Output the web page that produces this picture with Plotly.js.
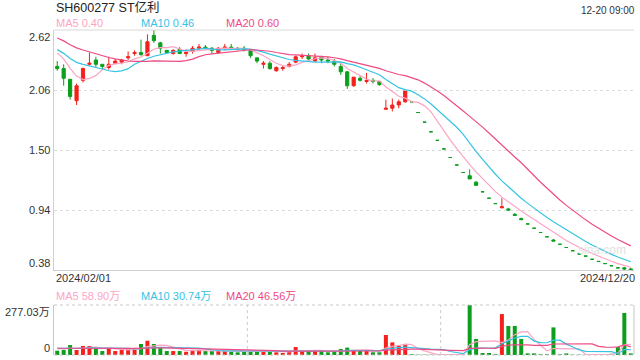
<!DOCTYPE html>
<html><head><meta charset="utf-8">
<script src="https://cdn.plot.ly/plotly-3.0.1.min.js"></script>
<style>html,body{margin:0;padding:0;background:#fff}#c{width:640px;height:360px}</style>
</head><body><div id="c"></div>
<script>
// ---- data ----
const opens  = [2.28,2.26,2.16,1.96,2.15,2.30,2.34,2.30,2.27,2.31, 2.32,2.36,2.40,2.41,2.38,2.57,2.50,2.43,2.40,2.44,
                2.40,2.42,2.45,2.46,2.45,2.41,2.45,2.46,2.45,2.45, 2.43,2.36,2.30,2.31,2.24,2.26,2.28,2.32,2.37,2.38,
                2.33,2.37,2.34,2.33,2.28,2.23,2.10,2.17,2.14,2.15, 2.14,1.88,1.89,1.92,1.95,1.95,1.85,1.76,1.67,1.59,
                1.51,1.43,1.36,1.29,1.26,1.20,1.11,1.05,1.00,0.96, 0.95,0.90,0.86,0.81,0.77,0.73,0.69,0.66,0.62,0.59,
                0.56,0.53,0.51,0.48,0.46,0.44,0.42,0.40,0.40,0.39];
const highs  = [2.33,2.30,2.16,2.12,2.27,2.41,2.37,2.30,2.37,2.35, 2.35,2.42,2.43,2.53,2.58,2.62,2.51,2.43,2.44,2.46,
                2.44,2.47,2.49,2.48,2.46,2.46,2.49,2.49,2.46,2.47, 2.43,2.36,2.33,2.33,2.28,2.29,2.32,2.38,2.40,2.40,
                2.40,2.38,2.37,2.35,2.31,2.23,2.18,2.19,2.22,2.17, 2.14,1.97,1.98,1.97,2.05,1.95,1.85,1.76,1.67,1.59,
                1.51,1.43,1.36,1.29,1.32,1.21,1.11,1.05,1.00,1.05, 0.96,0.91,0.87,0.81,0.77,0.73,0.69,0.67,0.62,0.59,
                0.56,0.53,0.51,0.48,0.46,0.44,0.42,0.40,0.41,0.40];
const lows   = [2.24,2.10,1.97,1.92,2.13,2.29,2.27,2.25,2.25,2.30, 2.30,2.34,2.38,2.38,2.38,2.50,2.40,2.40,2.39,2.40,
                2.37,2.40,2.43,2.44,2.40,2.40,2.43,2.44,2.43,2.42, 2.36,2.31,2.26,2.25,2.23,2.24,2.27,2.31,2.35,2.34,
                2.33,2.31,2.31,2.28,2.20,2.07,2.09,2.14,2.12,2.12, 2.10,1.88,1.86,1.89,1.94,1.95,1.85,1.76,1.67,1.59,
                1.51,1.43,1.36,1.29,1.23,1.17,1.11,1.05,1.00,0.96, 0.93,0.89,0.85,0.81,0.77,0.73,0.69,0.65,0.62,0.59,
                0.56,0.53,0.51,0.48,0.46,0.44,0.42,0.40,0.38,0.38];
const closes = [2.26,2.17,2.00,2.10,2.26,2.31,2.30,2.28,2.30,2.33, 2.34,2.37,2.41,2.39,2.51,2.52,2.45,2.41,2.43,2.40,
                2.41,2.45,2.46,2.45,2.43,2.45,2.46,2.45,2.44,2.44, 2.38,2.33,2.31,2.26,2.27,2.27,2.30,2.37,2.38,2.35,
                2.36,2.34,2.33,2.30,2.23,2.10,2.18,2.15,2.15,2.14, 2.11,1.89,1.92,1.95,2.05,1.95,1.85,1.76,1.67,1.59,
                1.51,1.43,1.36,1.29,1.23,1.17,1.11,1.05,1.00,0.97, 0.94,0.89,0.85,0.81,0.77,0.73,0.69,0.65,0.62,0.59,
                0.56,0.53,0.51,0.48,0.46,0.44,0.42,0.40,0.39,0.38];
// volume, 万股
const volumes = [24,28,55,28,50,50,37,22,37,22, 31,31,31,61,79,61,42,22,22,22,
                 18,28,28,22,22,22,22,18,15,18, 22,22,22,22,15,11,18,44,22,22,
                 22,22,15,22,33,41,26,22,26,15, 15,111,70,52,55,4,2,2,2,2,
                 2,2,1,1,277.03,89,11,11,4,227, 161,161,89,9,9,4,4,153,4,9,
                 2,2,1,1,2,1.5,7,44,233,9];
// closes / volumes of the days just before the window (estimated from the MA lines)
const preCloses  = [2.70,2.72,2.68,2.66,2.69,2.65,2.62,2.63,2.60,2.58,2.52,2.48,2.46,2.45,2.43,2.45,2.44,2.46,2.42];
const preVolumes = [35,42,38,30,45,40,36,33,41,39,37,44,36,40,35,38,42,36,39];

const priceTicks      = [0.38, 0.94, 1.50, 2.06, 2.62];
const priceTickLabels = ['0.38','0.94','1.50','2.06','2.62'];
const dateLabels      = ['2024/02/01','2024/12/20'];
const volTickLabels   = ['0','277.03万'];
const titleText = 'SH600277 ST亿利';
const timeText  = '12-20 09:00';
const maLabels    = ['MA5 0.40','MA10 0.46','MA20 0.60'];
const volMaLabels = ['MA5 58.90万','MA10 30.74万','MA20 46.56万'];

// ---- styling ----
const RED = '#f5201b', GREEN = '#0c9e1c';
const C5 = '#fda4c4', C10 = '#37c3e3', C20 = '#ee4a84';
const FONT = 'Liberation Sans, Arial, Noto Sans CJK SC, sans-serif';

const N = closes.length;
const xs = closes.map((_, i) => i);

function ma(pre, arr, n) {
  const all = pre.concat(arr);
  return arr.map((_, i) => { let s = 0; for (let k = 0; k < n; k++) s += all[pre.length + i - k]; return s / n; });
}
const volColors = closes.map((c, i) => {
  if (c > opens[i]) return RED;
  if (c < opens[i]) return GREEN;
  const prev = i > 0 ? closes[i - 1] : preCloses[preCloses.length - 1];
  return c >= prev ? RED : GREEN;
});

const traces = [
  {type:'candlestick', x:xs, open:opens, high:highs, low:lows, close:closes, xaxis:'x', yaxis:'y',
   increasing:{line:{color:RED, width:1}, fillcolor:RED},
   decreasing:{line:{color:GREEN, width:1}, fillcolor:GREEN},
   hoverinfo:'skip', showlegend:false},
  {type:'scatter', mode:'lines', x:xs, y:ma(preCloses, closes, 5),  line:{color:C5,  width:1.2}, xaxis:'x', yaxis:'y', hoverinfo:'skip', showlegend:false},
  {type:'scatter', mode:'lines', x:xs, y:ma(preCloses, closes, 10), line:{color:C10, width:1.2}, xaxis:'x', yaxis:'y', hoverinfo:'skip', showlegend:false},
  {type:'scatter', mode:'lines', x:xs, y:ma(preCloses, closes, 20), line:{color:C20, width:1.2}, xaxis:'x', yaxis:'y', hoverinfo:'skip', showlegend:false},
  {type:'bar', x:xs, y:volumes, marker:{color:volColors, line:{width:0}}, width:0.62, xaxis:'x2', yaxis:'y2', hoverinfo:'skip', showlegend:false},
  {type:'scatter', mode:'lines', x:xs, y:ma(preVolumes, volumes, 5),  line:{color:C5,  width:1.2}, xaxis:'x2', yaxis:'y2', hoverinfo:'skip', showlegend:false},
  {type:'scatter', mode:'lines', x:xs, y:ma(preVolumes, volumes, 10), line:{color:C10, width:1.2}, xaxis:'x2', yaxis:'y2', hoverinfo:'skip', showlegend:false},
  {type:'scatter', mode:'lines', x:xs, y:ma(preVolumes, volumes, 20), line:{color:C20, width:1.2}, xaxis:'x2', yaxis:'y2', hoverinfo:'skip', showlegend:false}
];

const txt = (o) => Object.assign({showarrow:false, borderpad:0, font:{family:FONT, size:11, color:'#333'}}, o);
const annotations = [];
annotations.push(txt({text:titleText, xref:'paper', x:0, xanchor:'left', xshift:1, yref:'paper', y:1, yanchor:'middle', yshift:23, font:{family:FONT, size:12.5, color:'#222'}}));
annotations.push(txt({text:timeText, xref:'paper', x:1, xanchor:'right', xshift:2, yref:'paper', y:1, yanchor:'middle', yshift:20, font:{family:FONT, size:10, color:'#333'}}));
const maX = [1, 86, 171];
[C5, C10, C20].forEach((col, k) => {
  annotations.push(txt({text:maLabels[k], xref:'paper', x:0, xanchor:'left', xshift:maX[k], yref:'paper', y:1, yanchor:'middle', yshift:7, font:{family:FONT, size:11, color:col}}));
  annotations.push(txt({text:volMaLabels[k], xref:'paper', x:0, xanchor:'left', xshift:maX[k], yref:'y2 domain', y:1, yanchor:'middle', yshift:9, font:{family:FONT, size:11, color:col}}));
});
priceTicks.forEach((v, k) => {
  const anchor = k === priceTicks.length - 1 ? 'top' : (k === 0 ? 'bottom' : 'middle');
  annotations.push(txt({text:priceTickLabels[k], xref:'paper', x:0, xanchor:'right', xshift:-3, yref:'y', y:v, yanchor:anchor}));
});
annotations.push(txt({text:dateLabels[0], xref:'paper', x:0, xanchor:'left', xshift:1, yref:'y domain', y:0, yanchor:'top', yshift:-1}));
annotations.push(txt({text:dateLabels[1], xref:'paper', x:1, xanchor:'right', xshift:2, yref:'y domain', y:0, yanchor:'top', yshift:-1}));
annotations.push(txt({text:volTickLabels[1], xref:'paper', x:0, xanchor:'right', xshift:-3, yref:'y2 domain', y:1, yanchor:'top'}));
annotations.push(txt({text:volTickLabels[0], xref:'paper', x:0, xanchor:'right', xshift:-3, yref:'y2 domain', y:0, yanchor:'bottom'}));
annotations.push(txt({text:'sina.com', xref:'paper', x:0.945, xanchor:'center', yref:'y', y:0.567, yanchor:'middle', font:{family:FONT, size:12, color:'#e2e2e2'}}));

const shapes = [
  {type:'line', xref:'paper', x0:0, x1:1, yref:'y domain', y0:1, y1:1, line:{color:'#d8d8d8', width:1}},
  {type:'line', xref:'paper', x0:0, x1:1, yref:'y2 domain', y0:1, y1:1, line:{color:'#c8c8c8', width:1, dash:'dot'}},
  {type:'line', xref:'paper', x0:0, x1:1, yref:'y2 domain', y0:0, y1:0, line:{color:'#c8c8c8', width:1, dash:'dot'}},
  {type:'line', xref:'paper', x0:1, x1:1, yref:'y2 domain', y0:0, y1:1, line:{color:'#c8c8c8', width:1}},
  {type:'line', xref:'paper', x0:1/3, x1:1/3, yref:'y2 domain', y0:0, y1:1, line:{color:'#cccccc', width:1, dash:'dot'}},
  {type:'line', xref:'paper', x0:2/3, x1:2/3, yref:'y2 domain', y0:0, y1:1, line:{color:'#cccccc', width:1, dash:'dot'}}
];

const layout = {
  width:640, height:360, margin:{l:54, r:6, t:30, b:5},
  paper_bgcolor:'#fff', plot_bgcolor:'#fff', showlegend:false, dragmode:false,
  font:{family:FONT, size:11, color:'#333'},
  xaxis:{anchor:'y', range:[-0.5, N-0.5], showticklabels:false, ticks:'', showgrid:false, zeroline:false,
         showline:true, linecolor:'#d0d0d0', linewidth:1, rangeslider:{visible:false}, fixedrange:true},
  yaxis:{domain:[0.2615, 1], range:[0.38, 2.62], tickvals:priceTicks, showticklabels:false, ticks:'',
         showgrid:true, gridcolor:'#dcdcdc', griddash:'dot', gridwidth:1, zeroline:false,
         showline:true, linecolor:'#d0d0d0', linewidth:1, fixedrange:true},
  xaxis2:{anchor:'y2', matches:'x', range:[-0.5, N-0.5], showticklabels:false, ticks:'', showgrid:false, zeroline:false, showline:false, fixedrange:true},
  yaxis2:{domain:[0, 0.1538], range:[0, 277.03], showticklabels:false, ticks:'', showgrid:false, zeroline:false,
          showline:true, linecolor:'#c8c8c8', linewidth:1, fixedrange:true},
  annotations:annotations, shapes:shapes, bargap:0.3
};

Plotly.newPlot('c', traces, layout, {staticPlot:true, displayModeBar:false});
</script>
</body></html>
